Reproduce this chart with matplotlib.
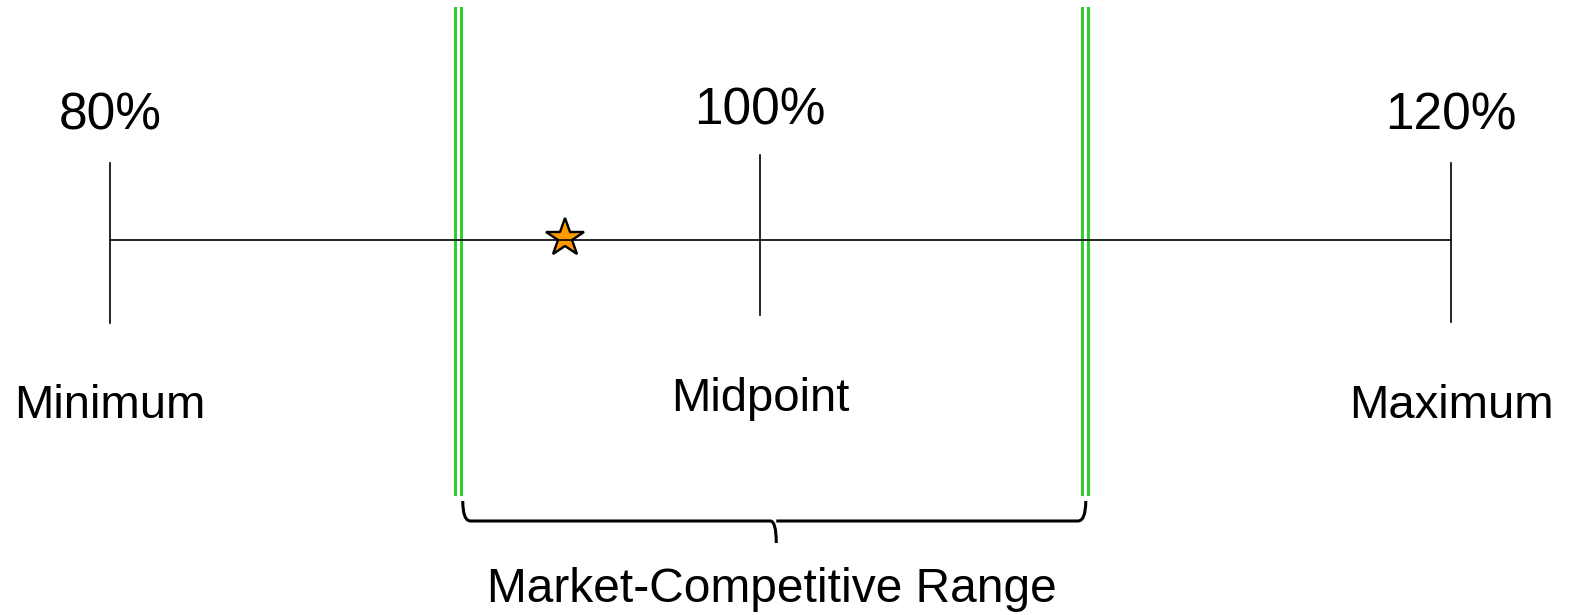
import numpy as np
import matplotlib
matplotlib.use('Agg')
import matplotlib.pyplot as plt
from matplotlib.path import Path
from matplotlib.patches import PathPatch

plt.rcParams['font.family'] = ['Liberation Sans', 'DejaVu Sans']

# data
tick_pct = [80, 100, 120]
tick_labels = ['80%', '100%', '120%']
tick_names = ['Minimum', 'Midpoint', 'Maximum']
range_pct = [90.7, 109.4]
range_label = 'Market-Competitive Range'
star_pct = 94.0

# pixel positions of the percent marks on the scale
scale_x = [110, 760, 1451]
def px(p):
    return np.interp(p, tick_pct, scale_x)

fig = plt.figure(figsize=(15.71, 6.15), dpi=100)
ax = fig.add_axes([0, 0, 1, 1])
ax.set_xlim(0, 1571)
ax.set_ylim(615, 0)
ax.axis('off')

# main line
ax.plot([px(tick_pct[0]), px(tick_pct[-1])], [240, 240], color='black', lw=1.2, zorder=3)

# tick marks and labels
tick_top = [163, 155, 163]
tick_bot = [323, 315, 322]
lab_y = [116, 111, 116]
name_y = [406, 399, 406]
for i, p in enumerate(tick_pct):
    x = px(p)
    ax.plot([x, x], [tick_top[i], tick_bot[i]], color='black', lw=1.2)
    ax.text(x, lab_y[i], tick_labels[i], fontsize=37, ha='center', va='center')
    ax.text(x, name_y[i], tick_names[i], fontsize=34, ha='center', va='center')

# green double lines for range
for p in range_pct:
    x = px(p)
    for dx in (-3, 3):
        ax.plot([x + dx, x + dx], [8, 494], color='#33cc33', lw=2.2)

# brace under the range
x0 = px(range_pct[0]) + 5
x1 = px(range_pct[1]) + 1
xm = (x0 + x1) / 2 + 2
yt, yb, ytip = 501, 521, 543
verts = [(x0, yt), (x0, yb), (x0 + 8, yb),
         (xm - 6, yb), (xm, yb), (xm, ytip),
         (xm, yb), (xm + 6, yb),
         (x1 - 8, yb), (x1, yb), (x1, yt)]
codes = [Path.MOVETO, Path.CURVE3, Path.CURVE3,
         Path.LINETO, Path.CURVE3, Path.CURVE3,
         Path.MOVETO, Path.LINETO,
         Path.LINETO, Path.CURVE3, Path.CURVE3]
ax.add_patch(PathPatch(Path(verts, codes), fill=False, lw=2.2, color='black'))
ax.text(xm - 4, 589, range_label, fontsize=34.5, ha='center', va='center')

# star
ax.plot([px(star_pct)], [238], marker='*', markersize=29, color='#ff9900',
        markeredgecolor='black', markeredgewidth=1.7, zorder=2)

fig.savefig('out.png', dpi=100)
